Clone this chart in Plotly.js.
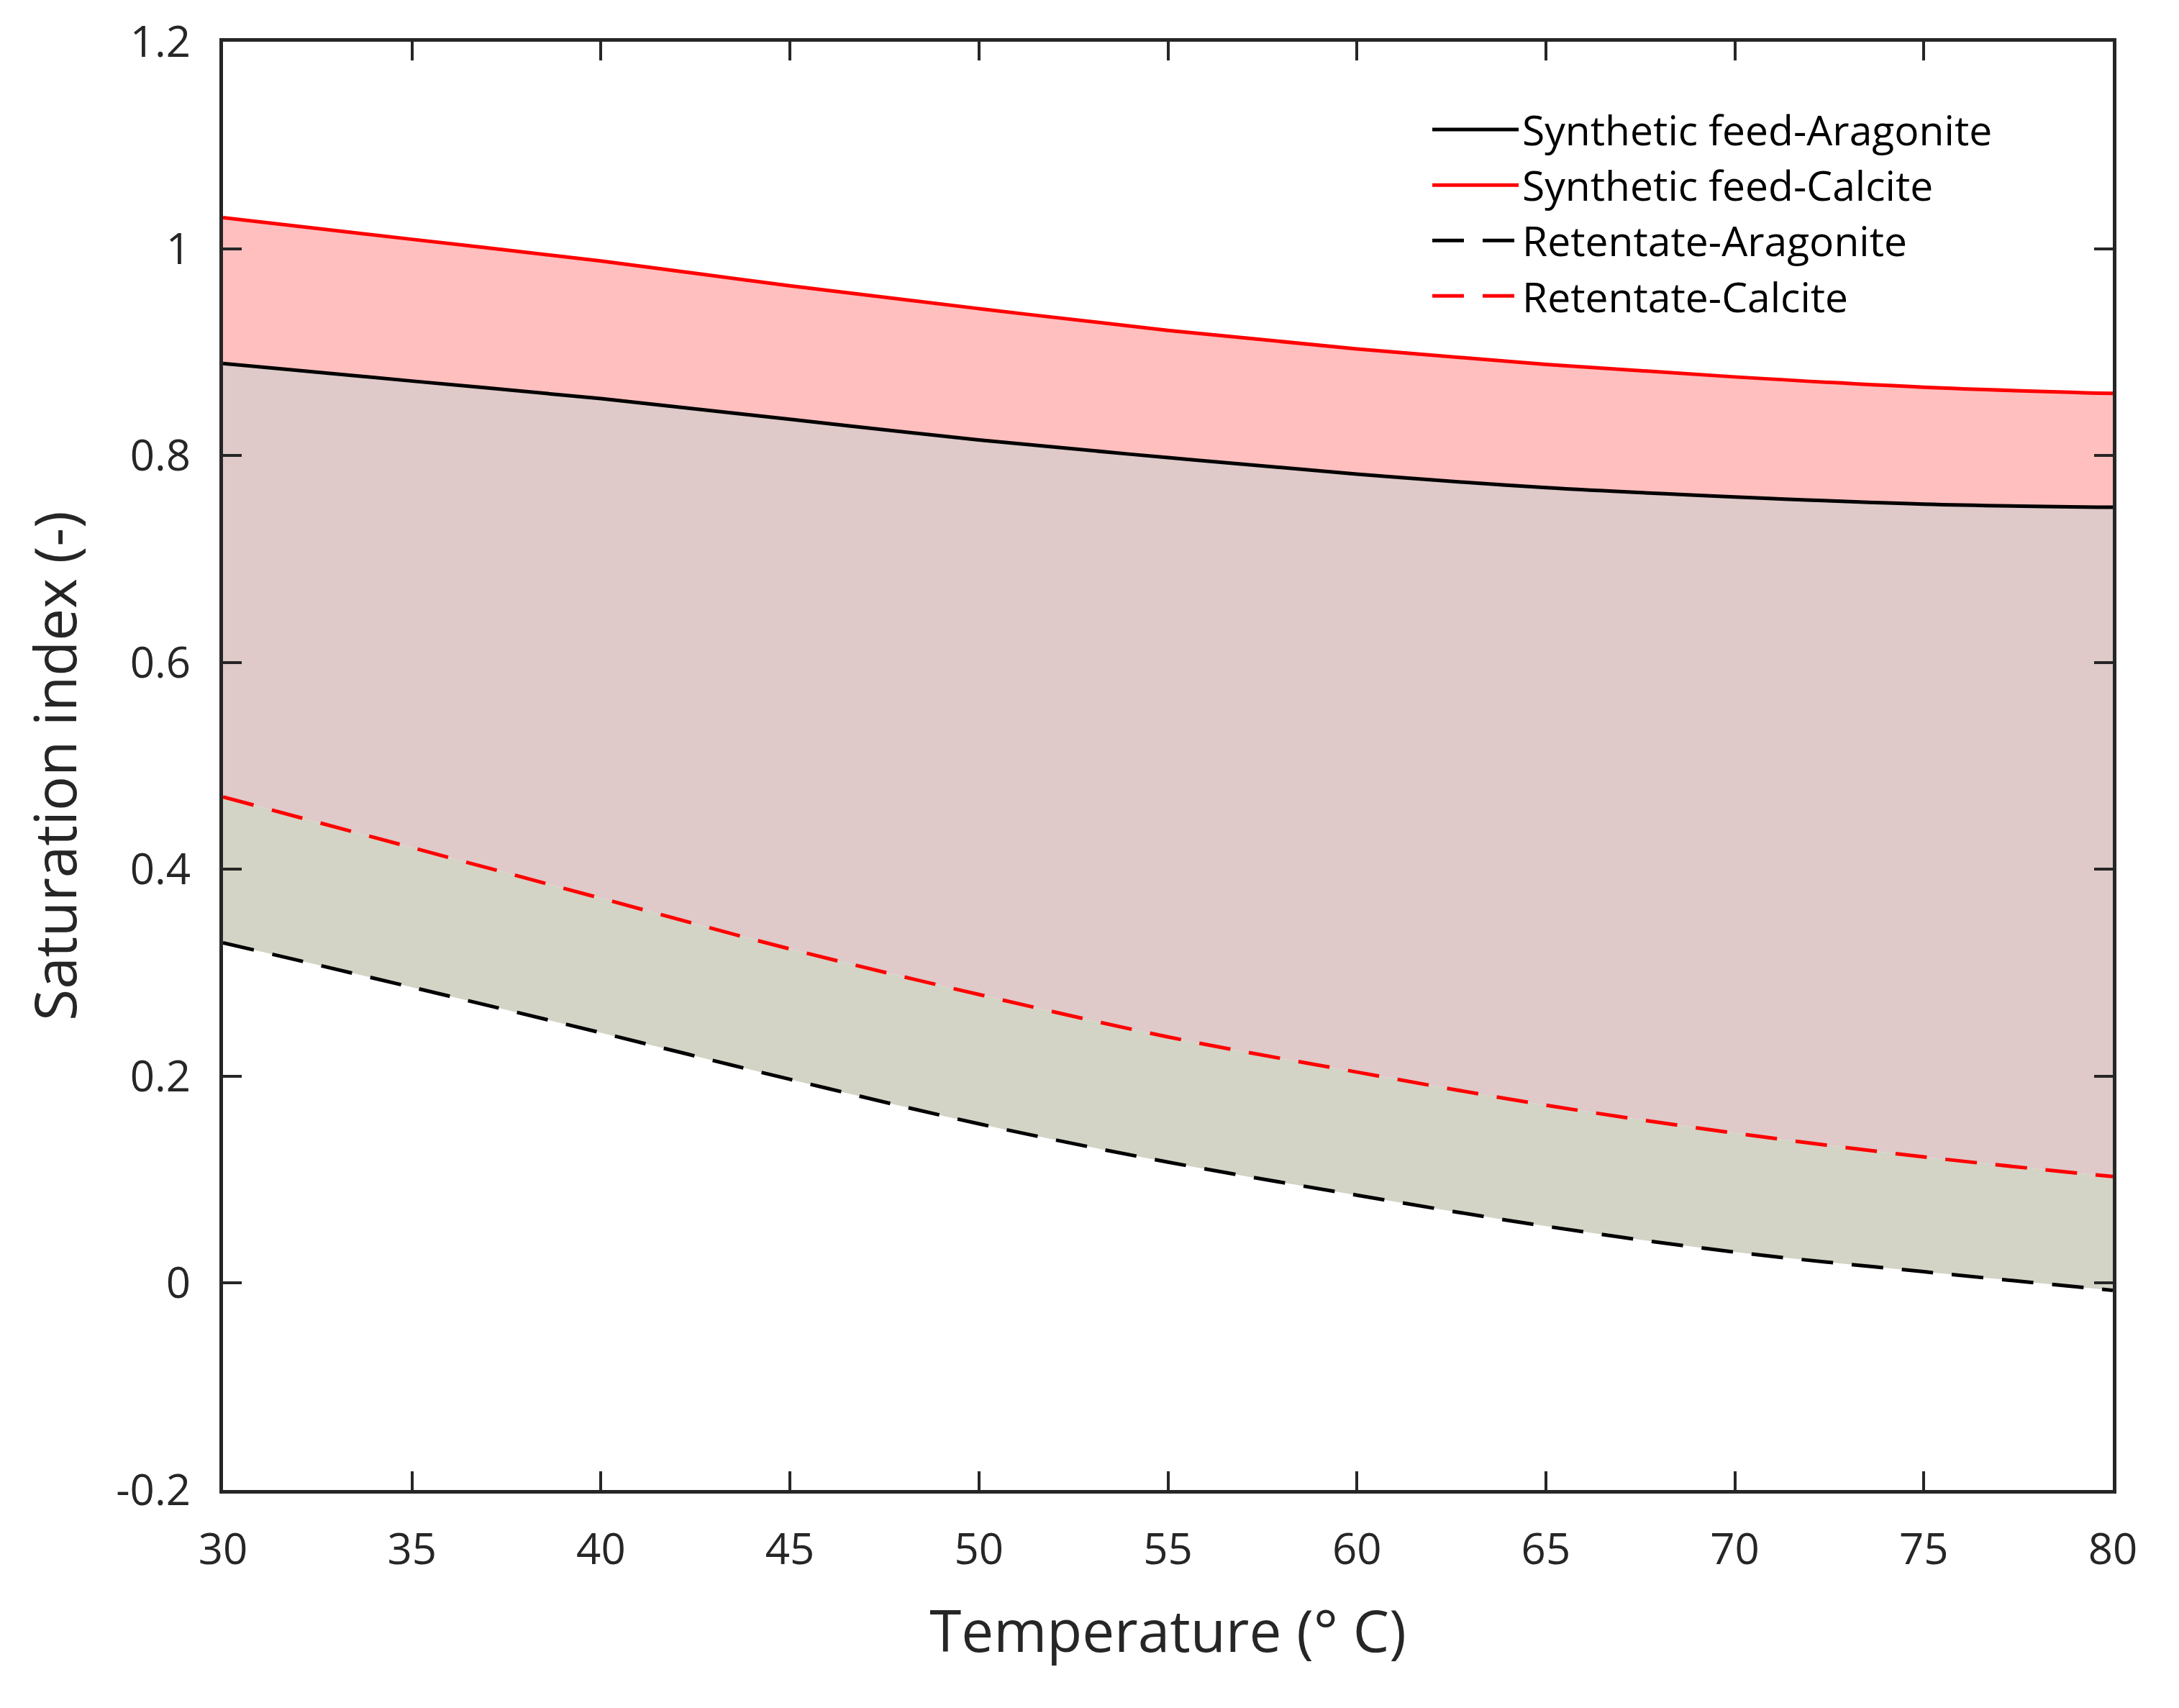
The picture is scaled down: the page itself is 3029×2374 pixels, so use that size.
<!DOCTYPE html>
<html>
<head>
<meta charset="utf-8">
<script src="https://cdn.plot.ly/plotly-3.0.1.min.js"></script>
<style>
  html, body { margin: 0; padding: 0; background: #fff; }
  #chart { width: 3029px; height: 2374px; }
</style>
</head>
<body>
<div id="chart"></div>
<script>
"use strict";

// temperatures (deg C)
var temps = [30, 35, 40, 45, 50, 55, 60, 65, 70, 75, 80];

// saturation index
var feedCalcite   = [1.030, 1.009, 0.988, 0.964, 0.942, 0.921, 0.903, 0.888, 0.876, 0.866, 0.860];
var feedAragonite = [0.889, 0.872, 0.855, 0.835, 0.815, 0.798, 0.782, 0.769, 0.760, 0.753, 0.750];
var retCalcite    = [0.470, 0.421, 0.372, 0.323, 0.279, 0.238, 0.204, 0.172, 0.145, 0.122, 0.103];
var retAragonite  = [0.329, 0.286, 0.242, 0.197, 0.154, 0.117, 0.085, 0.055, 0.030, 0.011, -0.007];

var yTicks = [-0.2, 0, 0.2, 0.4, 0.6, 0.8, 1, 1.2];
var yTickText = ["-0.2", "0", "0.2", "0.4", "0.6", "0.8", "1", "1.2"];
var xTicks = [30, 35, 40, 45, 50, 55, 60, 65, 70, 75, 80];

var axisCol = "#262626";

// shaded bands first (no lines), so the curves sit on top
var bands = [
  {x: temps, y: retAragonite, type: "scatter", mode: "lines", line: {width: 0, shape: "spline"}, showlegend: false, hoverinfo: "skip"},
  {x: temps, y: retCalcite, type: "scatter", mode: "lines", line: {width: 0, shape: "spline"}, fill: "tonexty", fillcolor: "#d3d4c6", showlegend: false, hoverinfo: "skip"},
  {x: temps, y: feedAragonite, type: "scatter", mode: "lines", line: {width: 0, shape: "spline"}, fill: "tonexty", fillcolor: "#dfc9c9", showlegend: false, hoverinfo: "skip"},
  {x: temps, y: feedCalcite, type: "scatter", mode: "lines", line: {width: 0, shape: "spline"}, fill: "tonexty", fillcolor: "#ffbfbf", showlegend: false, hoverinfo: "skip"}
];

var curves = [
  {x: temps, y: feedAragonite, type: "scatter", mode: "lines", name: "Synthetic feed-Aragonite",
   line: {color: "#000000", width: 5, shape: "spline"}},
  {x: temps, y: feedCalcite, type: "scatter", mode: "lines", name: "Synthetic feed-Calcite",
   line: {color: "#ff0000", width: 5, shape: "spline"}},
  {x: temps, y: retAragonite, type: "scatter", mode: "lines", name: "Retentate-Aragonite",
   line: {color: "#000000", width: 5, dash: "44px,26px", shape: "spline"}},
  {x: temps, y: retCalcite, type: "scatter", mode: "lines", name: "Retentate-Calcite",
   line: {color: "#ff0000", width: 5, dash: "44px,26px", shape: "spline"}}
];

var layout = {
  width: 3029,
  height: 2374,
  paper_bgcolor: "#ffffff",
  plot_bgcolor: "#ffffff",
  margin: {l: 310, r: 92, t: 58, b: 303},
  font: {family: "Open Sans, sans-serif", color: axisCol},
  showlegend: true,
  legend: {
    x: 0.638, y: 0.961, xanchor: "left", yanchor: "top",
    traceorder: "normal",
    bgcolor: "rgba(255,255,255,0)",
    borderwidth: 0,
    font: {family: "Liberation Sans Narrow, Open Sans, sans-serif", size: 57, color: "#000000"},
    itemwidth: 120,
    tracegroupgap: 0
  },
  xaxis: {
    range: [30, 80],
    tickvals: xTicks,
    ticks: "inside", ticklen: 26, tickwidth: 4, tickcolor: axisCol,
    showline: true, linewidth: 5, linecolor: axisCol, mirror: "ticks",
    showgrid: false, zeroline: false,
    tickfont: {size: 60, color: axisCol},
    ticklabelstandoff: 26,
    title: {text: "Temperature (° C)", font: {size: 80, color: axisCol}, standoff: 50}
  },
  yaxis: {
    range: [-0.2, 1.2],
    tickvals: yTicks, ticktext: yTickText,
    ticks: "inside", ticklen: 26, tickwidth: 4, tickcolor: axisCol,
    showline: true, linewidth: 5, linecolor: axisCol, mirror: "ticks",
    showgrid: false, zeroline: false,
    tickfont: {size: 60, color: axisCol},
    ticklabelstandoff: 28,
    title: {text: "Saturation index (-)", font: {size: 80, color: axisCol}, standoff: 30}
  }
};

Plotly.newPlot("chart", bands.concat(curves), layout, {staticPlot: true});
</script>
</body>
</html>
